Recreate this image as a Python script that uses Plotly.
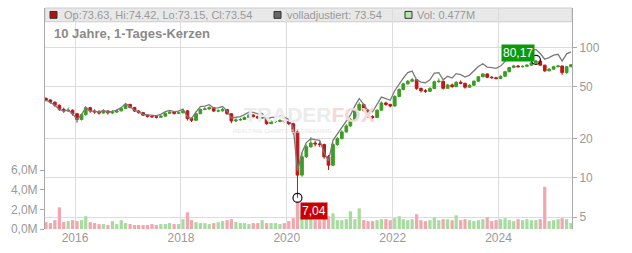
import math
import pandas as pd
import plotly.graph_objects as go

# ---------------- data (monthly) ----------------
months = pd.date_range("2015-06-01", periods=120, freq="MS") + pd.Timedelta(days=14)
first_open = 40.5
closes = [39.5, 38, 36, 33.5, 32.5, 33, 31,
          28, 30.5, 34.5, 32.5, 32, 31.4, 32.5, 31.4, 31.9, 32.6, 34, 36.5,
          34.6, 32.5, 31.6, 30.2, 29.5, 29.4, 29.1, 29.7, 31.2, 31.9, 31.2, 31.5,
          32.6, 28.5, 27.6, 31, 33.4, 33.7, 34.5, 32.5, 32.6, 33.4, 31, 27.3,
          27.8, 28, 29, 30.3, 29.5, 28.7, 28.9, 26, 27, 27, 27.5, 27.1,
          26, 22.5, 10.5, 14.5, 17.3, 18.5, 18.2, 18, 14.5, 12.5, 18, 20,
          22.5, 25, 28, 33, 36.5, 33, 29.5, 29, 33, 37.5, 36.5, 35.5,
          42, 47.5, 52.5, 55, 56.5, 48.4, 46.5, 46, 48.4, 54.5, 55, 48.5,
          51.5, 50, 54, 53, 49.5, 51.2, 55, 59.5, 62.5, 59, 58.5, 57.7,
          60, 65, 70, 72, 71, 71.5, 73, 76, 78.5, 73, 66, 68,
          71, 72, 64, 71, 73.54]
highs = [41.5, 40, 38.5, 36.5, 34.5, 34.5, 33.5,
         31.5, 31, 35.5, 35, 33.5, 33, 33.5, 33, 33, 33.5, 34.8, 37.5,
         37, 35, 33, 32, 30.8, 30.3, 30, 30.5, 31.8, 32.6, 32.3, 32.3,
         33.5, 33, 29, 31.5, 34, 34.8, 35.3, 34.8, 33.5, 34.3, 33.6, 31.3,
         28.6, 28.8, 29.6, 30.9, 30.8, 30, 29.6, 29.1, 27.6, 27.8, 28.2, 28,
         27.4, 26.5, 23.5, 15.5, 18, 20.5, 19.3, 19, 18.3, 15, 18.6, 20.6,
         23.2, 25.8, 28.8, 33.8, 38, 37, 33.4, 30.2, 33.6, 38.5, 38.3, 37,
         43, 48.5, 53.5, 56.2, 58.2, 57, 49.3, 47.8, 49.5, 55.5, 57.8, 55.5,
         52.5, 52.8, 55, 55.8, 53.5, 52.2, 55.8, 60.3, 63.5, 63, 60.2, 59.5,
         61, 66, 71, 73.5, 73.2, 72.8, 74.2, 77, 80.17, 79, 73.5, 69.5,
         72.2, 73.5, 72.3, 71.8, 74.42]
lows = [38.5, 37, 35, 32.5, 31.5, 32, 30,
        26.5, 27.5, 30, 31.5, 31, 30.5, 31, 30.5, 30.8, 31.5, 32.2, 33.8,
        34, 32, 31, 29.8, 29, 28.7, 28.5, 28.8, 29.5, 31, 30.5, 30.8,
        31.2, 27.5, 26.8, 27.4, 30.8, 33, 33.2, 32, 31.8, 32.2, 30.5, 26.2,
        26.8, 27.3, 27.8, 28.8, 29, 28.2, 28.2, 25.5, 25.8, 26.3, 26.8, 26.6,
        25.3, 21.5, 7.04, 10.2, 14.2, 17, 17.4, 17.2, 14, 11.5, 12.3, 17.6,
        19.8, 22.2, 24.6, 27.6, 32.6, 32.4, 28.8, 28.2, 28.8, 32.8, 35.6, 34.6,
        35.2, 41.5, 46.8, 51.8, 54, 47.2, 45, 44.8, 45.5, 47.8, 53.5, 47.5,
        48, 49, 49.5, 52, 48.2, 49, 50.8, 54.5, 59, 58, 57.5, 56.8,
        57, 59.5, 64.5, 69.2, 70, 69.8, 70.5, 72.3, 75.2, 72, 64.8, 65.5,
        67.5, 70.2, 61.5, 62.5, 70.5]
volumes_m = [0.7, 0.6, 0.9, 2.2, 0.7, 0.8, 0.9,
             0.8, 0.9, 1.3, 0.7, 0.6, 0.5, 0.5, 0.4, 0.8, 0.5, 0.9, 0.6,
             0.5, 0.4, 0.4, 0.4, 0.4, 0.5, 0.4, 0.5, 0.5, 0.6, 0.5, 0.5,
             1.0, 1.7, 0.9, 0.7, 0.6, 0.6, 0.5, 0.6, 0.7, 0.8, 0.9, 1.0,
             0.7, 0.6, 0.6, 0.5, 0.6, 0.6, 0.9, 0.6, 0.6, 0.6, 0.5, 0.6,
             0.8, 1.1, 2.8, 1.9, 1.5, 1.2, 0.9, 0.9, 1.1, 1.3, 1.6, 0.9,
             0.9, 1.0, 1.8, 1.0, 2.1, 0.9, 0.8, 0.8, 0.9, 1.0, 1.0, 0.9,
             1.1, 1.3, 1.0, 0.9, 1.0, 1.5, 0.9, 0.8, 0.9, 1.2, 0.9, 1.0,
             1.0, 0.9, 1.4, 0.9, 1.0, 0.9, 0.8, 0.9, 1.0, 1.2, 0.8, 0.9,
             1.0, 1.1, 0.9, 0.8, 1.0, 0.9, 1.0, 0.9, 0.9, 1.0, 4.3, 0.8,
             0.9, 1.0, 1.1, 1.0, 0.6]
dividends = [("2016-05", 0.45), ("2017-05", 0.5), ("2018-05", 0.7), ("2019-05", 0.7),
             ("2021-05", 1.0), ("2022-04", 2.8), ("2023-05", 1.4), ("2024-05", 1.8),
             ("2025-04", 1.6)]
last_day = {"Op": "73.63", "Hi": "74.42", "Lo": "73.15", "Cl": "73.54"}
adj_last = "73.54"
vol_last = "0.477M"
year_ticks = ["2016", "2018", "2020", "2022", "2024"]
price_ticks = [5, 10, 20, 50, 100]
vol_ticks = [0, 2e6, 4e6, 6e6]
vol_ticktext = ["0,0M", "2,0M", "4,0M", "6,0M"]
title_text = "10 Jahre, 1-Tages-Kerzen"

# ---------------- derived ----------------
opens = [first_open] + closes[:-1]
div_map = dict(dividends)
factor = 1.0
adjusted = []
for d, c in zip(months, closes):
    key = d.strftime("%Y-%m")
    if key in div_map:
        factor *= 1 + div_map[key] / c
    adjusted.append(c * factor)
volumes = [v * 1e6 for v in volumes_m]
up = [c >= o for o, c in zip(opens, closes)]
GREEN = "#3a9e22"
RED = "#c21515"
vol_colors = ["#a8dba0" if u else "#f2a6ae" for u in up]

FONT = "Liberation Sans, Arial, sans-serif"
W, H = 632, 253
L, R, T, B = 45, 60, 8, 20
PW, PH = W - L - R, H - T - B


def px(x):
    return (x - L) / PW


def py(y):
    return (H - B - y) / PH


fig = go.Figure()
fig.add_trace(go.Bar(x=months, y=volumes, marker=dict(color=vol_colors, line=dict(width=0)),
                     yaxis="y", hoverinfo="skip"))
fig.add_trace(go.Scatter(x=months, y=adjusted, mode="lines", yaxis="y2",
                         line=dict(color="#7a7a7a", width=1.3), hoverinfo="skip"))
fig.add_trace(go.Candlestick(x=months, open=opens, high=highs, low=lows, close=closes,
                             yaxis="y2", whiskerwidth=0,
                             increasing=dict(line=dict(color=GREEN, width=1), fillcolor=GREEN),
                             decreasing=dict(line=dict(color=RED, width=1), fillcolor=RED)))

# extreme markers
i_hi = max(range(len(highs)), key=lambda i: highs[i])
i_lo = min(range(len(lows)), key=lambda i: lows[i])
fig.add_trace(go.Scatter(x=[months[i_hi], months[i_lo]], y=[highs[i_hi], lows[i_lo]],
                         mode="markers", yaxis="y2",
                         marker=dict(size=9, color="rgba(0,0,0,0)", line=dict(color="#111", width=1.2)),
                         hoverinfo="skip"))

anns = []
anns.append(dict(x=months[i_hi], y=math.log10(highs[i_hi]), xref="x", yref="y2",
                 text=f"{highs[i_hi]:.2f}".replace(".", ","), showarrow=False,
                 xanchor="right", yanchor="bottom", xshift=-1, yshift=-2,
                 bgcolor="#0a9a0a", font=dict(color="white", size=12, family=FONT), borderpad=1))
anns.append(dict(x=months[i_lo], y=math.log10(lows[i_lo]), xref="x", yref="y2",
                 text=f"{lows[i_lo]:.2f}".replace(".", ","), showarrow=False,
                 xanchor="left", yanchor="top", xshift=3, yshift=-4,
                 bgcolor="#cc0000", font=dict(color="white", size=12, family=FONT), borderpad=1))
# watermark
anns.append(dict(x=px(309), y=py(116), xref="paper", yref="paper", showarrow=False,
                 text="<b>TRADER<span style='color:#f5d8d8'>FOX</span></b>",
                 font=dict(size=21, color="#ebebeb", family=FONT)))
anns.append(dict(x=px(282), y=py(133), xref="paper", yref="paper", showarrow=False,
                 text="REALTIME CHARTS &amp; SCREENING",
                 font=dict(size=6, color="#e6e6e6", family=FONT)))
# title
anns.append(dict(x=px(52), y=py(34), xref="paper", yref="paper", showarrow=False,
                 xanchor="left", yanchor="middle", text=f"<b>{title_text}</b>",
                 font=dict(size=13, color="#8a8a8a", family=FONT)))
# legend texts
leg_txt = [
    (62, "Op:%s, Hi:%s, Lo:%s, Cl:%s" % (last_day["Op"], last_day["Hi"], last_day["Lo"], last_day["Cl"])),
    (285, "volladjustiert: %s" % adj_last),
    (415, "Vol: %s" % vol_last),
]
for x0, t in leg_txt:
    anns.append(dict(x=px(x0), y=py(15), xref="paper", yref="paper", showarrow=False,
                     xanchor="left", yanchor="middle", text=t,
                     font=dict(size=11, color="#999999", family=FONT)))

shapes = [dict(type="rect", xref="paper", yref="paper", x0=0, x1=1, y0=py(22), y1=1,
               fillcolor="#e8e8e8", line=dict(color="#cccccc", width=1), layer="below")]
for (x0, col) in [(50, "#b51010"), (274, "#666666"), (405, "#b8e4b2")]:
    shapes.append(dict(type="rect", xref="paper", yref="paper", x0=px(x0), x1=px(x0 + 7),
                       y0=py(18.5), y1=py(11.5), fillcolor=col, line=dict(color="#333", width=1)))

fig.update_layout(
    width=W, height=H, margin=dict(l=L, r=R, t=T, b=B),
    paper_bgcolor="white", plot_bgcolor="white", showlegend=False,
    bargap=0.2, boxgap=0.05, annotations=anns, shapes=shapes,
    font=dict(family=FONT, color="#999999", size=12),
    xaxis=dict(type="date", range=["2015-06-08", "2025-05-22"],
               tickvals=[f"{y}-01-01" for y in year_ticks], ticktext=year_ticks,
               showgrid=True, gridcolor="#dcdcdc", gridwidth=1, zeroline=False,
               showline=False, ticks="", rangeslider=dict(visible=False),
               tickfont=dict(size=12, color="#999999")),
    yaxis=dict(side="left", range=[0, 22.5e6], tickvals=vol_ticks, ticktext=vol_ticktext,
               showgrid=False, zeroline=False, showline=True, linecolor="#aaaaaa",
               ticks="outside", ticklen=4, tickcolor="#aaaaaa",
               tickfont=dict(size=12, color="#999999")),
    yaxis2=dict(side="right", overlaying="y", type="log",
                range=[math.log10(4.06), math.log10(200)],
                tickvals=price_ticks, ticktext=[str(v) for v in price_ticks],
                showgrid=True, gridcolor="#dcdcdc", zeroline=False,
                showline=True, linecolor="#aaaaaa", ticks="outside", ticklen=4,
                tickcolor="#aaaaaa", tickfont=dict(size=12, color="#999999")),
)

fig.write_html("out.html")
